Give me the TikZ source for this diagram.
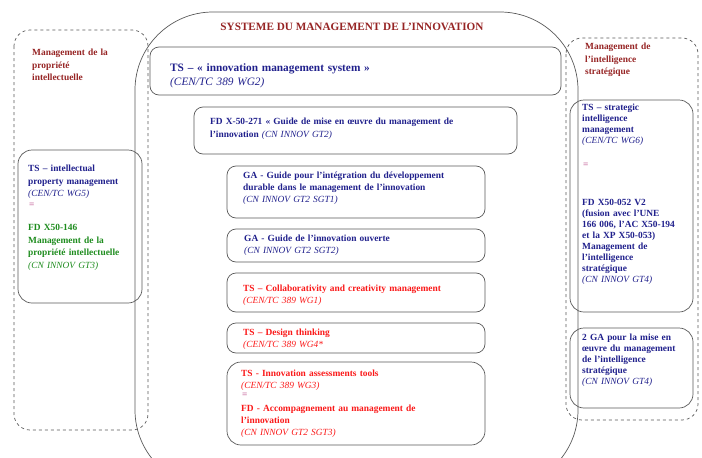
\documentclass[tikz,border=0pt]{standalone}
\usepackage{fontspec}
\setmainfont{Liberation Serif}
\usepackage{xcolor}
\definecolor{bleu}{RGB}{32,32,140}
\definecolor{rouge}{RGB}{250,25,25}
\definecolor{vert}{RGB}{30,140,30}
\definecolor{bordeaux}{RGB}{150,36,36}
\definecolor{rose}{RGB}{200,110,160}
\tikzstyle{cadre} = [draw=black!65, line width=0.7pt, rounded corners=9pt]
\tikzstyle{pointille} = [draw=black!65, line width=0.7pt, dashed, rounded corners=16pt]
\tikzset{
	txt/.style={anchor=north west, inner sep=0pt, align=left, text width=#1,
			font=\fontsize{9.4}{11.7}\selectfont\bfseries},
	txt/.default=250pt,
	large/.style={font=\fontsize{9.4}{12.6}\selectfont\bfseries},
	serre/.style={font=\fontsize{9.4}{11}\selectfont\bfseries}
}
\newcommand{\reff}[1]{{\normalfont\itshape #1}}

\begin{document}
\begin{tikzpicture}[x=1pt, y=-1pt, line join=round]
  \useasboundingbox (0,0) rectangle (702,458);

  % grand cadre du systeme
  \begin{scope}
    \clip (0,0) rectangle (702,458);
    \draw[cadre, rounded corners=78pt] (135,12) rectangle (578,488);
  \end{scope}
  \node (titre) [anchor=center, inner sep=0pt, text=bordeaux,
    font=\fontsize{11.2}{13}\selectfont\bfseries] at (352,27) {SYSTEME DU MANAGEMENT DE L’INNOVATION};

  % propriete intellectuelle
  \draw[pointille] (14,30) rectangle (148,430);
  \node (mpi) [txt=110pt, large, text=bordeaux] at (32,49) {Management de la\\propriété\\intellectuelle};
  \draw[cadre, rounded corners=14pt] (18,150) rectangle (142,303);
  \node (tsipm) [txt=118pt, large, text=bleu] at (28,165) {TS – intellectual\\property management\\\reff{(CEN/TC WG5)}};
  \node (egal1) [txt=20pt, text=rose] at (29,203) {=};
  \node (fdpi) [txt=118pt, large, text=vert] at (28,224) {FD X50-146\\Management de la\\propriété intellectuelle\\\reff{(CN INNOV GT3)}};

  % systeme du management de l'innovation
  \draw[cadre] (150,47) rectangle (561,95);
  \node (tsims) [txt=300pt, text=bleu, font=\fontsize{11.3}{14}\selectfont\bfseries] at (170,63)
    {TS – « innovation management system »\\\reff{(CEN/TC 389 WG2)}};
  \draw[cadre] (194,107) rectangle (517,154);
  \node (fdguide) [txt=300pt, large, text=bleu] at (210,118)
    {FD X-50-271 « Guide de mise en œuvre du management de\\l’innovation \reff{(CN INNOV GT2)}};
  \draw[cadre] (227,166) rectangle (485,218);
  \node (gadd) [txt=245pt, text=bleu] at (243,172)
    {GA - Guide pour l’intégration du développement\\durable dans le management de l’innovation\\\reff{(CN INNOV GT2 SGT1)}};
  \draw[cadre] (227,229) rectangle (485,262);
  \node (gaouverte) [txt=245pt, text=bleu] at (244,235)
    {GA - Guide de l’innovation ouverte\\\reff{(CN INNOV GT2 SGT2)}};
  \draw[cadre] (227,273) rectangle (485,312);
  \node (tscollab) [txt=245pt, text=rouge] at (243,285)
    {TS – Collaborativity and creativity management\\\reff{(CEN/TC 389 WG1)}};
  \draw[cadre] (227,323) rectangle (485,353);
  \node (tsdesign) [txt=245pt, text=rouge] at (243,329)
    {TS – Design thinking\\\reff{(CEN/TC 389 WG4*}};
  \draw[cadre, rounded corners=14pt] (227,362) rectangle (485,445);
  \node (tsassess) [txt=245pt, text=rouge] at (241,370)
    {TS - Innovation assessments tools\\\reff{(CEN/TC 389 WG3)}};
  \node (egal2) [txt=20pt, text=rose] at (242,393) {=};
  \node (fdaccomp) [txt=245pt, text=rouge] at (241,405)
    {FD - Accompagnement au management de\\l’innovation\\\reff{(CN INNOV GT2 SGT3)}};

  % intelligence strategique
  \draw[pointille] (566,38) rectangle (698,420);
  \node (mis) [txt=110pt, large, text=bordeaux] at (585,43) {Management de\\l’intelligence\\stratégique};
  \draw[cadre, rounded corners=14pt] (570,100) rectangle (693,312);
  \node (tssim) [txt=110pt, serre, text=bleu] at (582,104)
    {TS – strategic\\intelligence\\management\\\reff{(CEN/TC WG6)}};
  \node (egal3) [txt=20pt, text=rose] at (583,163) {=};
  \node (fdsim) [txt=110pt, serre, text=bleu] at (582,199)
    {FD X50-052 V2\\(fusion avec l’UNE\\166 006, l’AC X50-194\\et la XP X50-053)\\Management de\\l’intelligence\\stratégique\\\reff{(CN INNOV GT4)}};
  \draw[cadre, rounded corners=14pt] (570,328) rectangle (693,408);
  \node (gamis) [txt=110pt, serre, text=bleu] at (582,334)
    {2 GA pour la mise en\\œuvre du management\\de l’intelligence\\stratégique\\\reff{(CN INNOV GT4)}};
\end{tikzpicture}
\end{document}
